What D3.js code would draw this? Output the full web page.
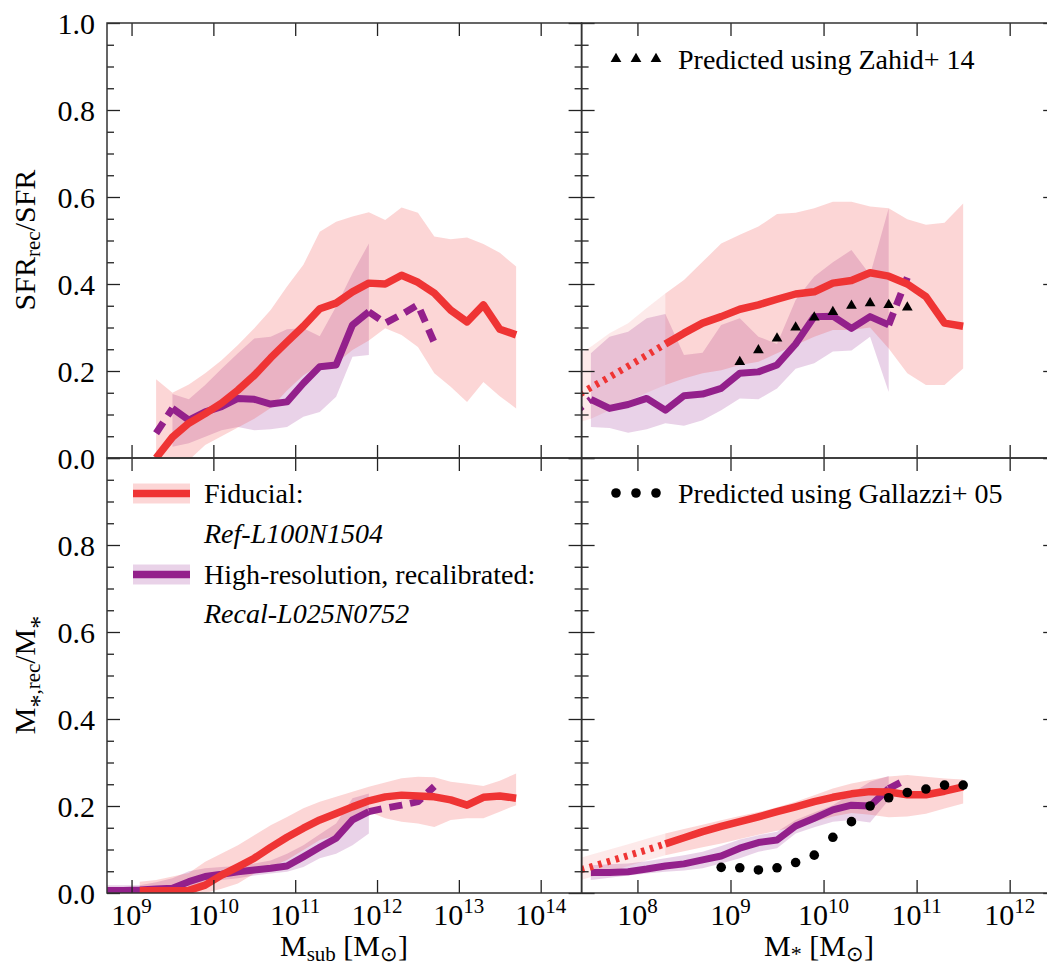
<!DOCTYPE html>
<html><head><meta charset="utf-8">
<script src="https://cdn.jsdelivr.net/npm/d3@7"></script>
<style>
body{margin:0;background:#fff}
svg{display:block}
text{font-family:"Liberation Serif","Times New Roman",serif;fill:#000}
</style>
</head><body>
<svg id="c" width="1047" height="965"></svg>
<script>
// ---------------- DATA (log10 mass bins, fractions) ----------------
// Top-left: SFR_rec/SFR vs M_sub
const haloBinsRef = [9.3,9.5,9.7,9.9,10.1,10.3,10.5,10.7,10.9,11.1,11.3,11.5,11.7,11.9,12.1,12.3,12.5,12.7,12.9,13.1,13.3,13.5,13.7];
const sfrHaloRefMed  = [0.0,0.048,0.08,0.102,0.126,0.156,0.19,0.23,0.267,0.303,0.343,0.356,0.382,0.402,0.400,0.420,0.404,0.379,0.340,0.313,0.352,0.296,0.283];
const sfrHaloRefHigh = [0.181,0.150,0.169,0.195,0.225,0.260,0.298,0.340,0.394,0.444,0.520,0.543,0.555,0.565,0.547,0.576,0.564,0.509,0.503,0.507,0.492,0.472,0.440];
const sfrHaloRefLow  = [-0.05,-0.03,-0.005,0.03,0.05,0.07,0.09,0.115,0.155,0.19,0.214,0.218,0.248,0.27,0.298,0.283,0.255,0.195,0.164,0.129,0.175,0.142,0.114];

const haloBinsRecal = [9.5,9.7,9.9,10.1,10.3,10.5,10.7,10.9,11.1,11.3,11.5,11.7,11.9];
const sfrHaloRecalMed  = [0.114,0.087,0.106,0.118,0.137,0.135,0.124,0.129,0.172,0.210,0.214,0.306,0.336];
const sfrHaloRecalHigh = [0.147,0.135,0.168,0.205,0.241,0.275,0.279,0.296,0.298,0.280,0.348,0.425,0.493];
const sfrHaloRecalLow  = [0.026,0.034,0.049,0.064,0.071,0.064,0.066,0.071,0.095,0.106,0.141,0.233,0.237];
const haloBinsRecalSparseLo = [9.3,9.5];
const sfrHaloRecalSparseLo  = [0.057,0.114];
const haloBinsRecalSparseHi = [11.9,12.1,12.3,12.5,12.7];
const sfrHaloRecalSparseHi  = [0.336,0.310,0.330,0.352,0.265];

// Top-right: SFR_rec/SFR vs M_*
const starBinsRef = [8.3,8.5,8.7,8.9,9.1,9.3,9.5,9.7,9.9,10.1,10.3,10.5,10.7,10.9,11.1,11.3,11.5];
const sfrStarRefMed  = [0.262,0.287,0.310,0.325,0.342,0.352,0.365,0.377,0.382,0.402,0.408,0.426,0.418,0.400,0.371,0.310,0.303];
const sfrStarRefHigh = [0.378,0.409,0.451,0.493,0.513,0.532,0.561,0.564,0.574,0.589,0.589,0.578,0.574,0.549,0.536,0.541,0.585];
const sfrStarRefLow  = [0.168,0.183,0.195,0.202,0.214,0.221,0.241,0.260,0.279,0.294,0.294,0.300,0.252,0.195,0.168,0.168,0.206];
const starBinsRefUnres = [7.3,7.5,7.7,7.9,8.1,8.3];
const sfrStarRefUnresMed  = [0.137,0.162,0.186,0.211,0.236,0.262];
const sfrStarRefUnresHigh = [0.230,0.256,0.287,0.310,0.345,0.378];
const sfrStarRefUnresLow  = [0.078,0.090,0.110,0.130,0.150,0.168];

const starBinsRecal = [7.5,7.7,7.9,8.1,8.3,8.5,8.7,8.9,9.1,9.3,9.5,9.7,9.9,10.1,10.3,10.5,10.7];
const sfrStarRecalMed  = [0.135,0.114,0.123,0.137,0.110,0.143,0.147,0.160,0.195,0.198,0.214,0.262,0.325,0.326,0.298,0.325,0.306];
const sfrStarRecalHigh = [0.241,0.279,0.290,0.321,0.331,0.237,0.242,0.306,0.321,0.279,0.262,0.363,0.417,0.450,0.478,0.421,0.574];
const sfrStarRecalLow  = [0.071,0.069,0.058,0.066,0.080,0.074,0.087,0.110,0.137,0.135,0.160,0.205,0.218,0.245,0.247,0.279,0.152];
const starBinsRecalSparseLo = [7.3,7.5];
const sfrStarRecalSparseLo  = [0.100,0.135];
const starBinsRecalSparseHi = [10.7,10.9];
const sfrStarRecalSparseHi  = [0.306,0.415];

const zahidLogM = [9.1,9.3,9.5,9.7,9.9,10.1,10.3,10.5,10.7,10.9];
const zahidSfr  = [0.221,0.248,0.275,0.300,0.323,0.336,0.350,0.356,0.352,0.346];

// Bottom-left: M*,rec/M* vs M_sub
const haloBinsRefM = [9.1,9.3,9.5,9.7,9.9,10.1,10.3,10.5,10.7,10.9,11.1,11.3,11.5,11.7,11.9,12.1,12.3,12.5,12.7,12.9,13.1,13.3,13.5,13.7];
const mHaloRefMed  = [0.005,0.005,0.005,0.006,0.018,0.041,0.060,0.080,0.105,0.128,0.149,0.168,0.183,0.198,0.212,0.221,0.225,0.223,0.221,0.214,0.202,0.220,0.223,0.218];
const mHaloRefHigh = [0.026,0.030,0.038,0.046,0.072,0.091,0.110,0.133,0.156,0.175,0.195,0.210,0.221,0.233,0.244,0.254,0.264,0.267,0.266,0.256,0.251,0.246,0.258,0.275];
const mHaloRefLow  = [-0.01,-0.01,-0.01,-0.005,0.0,0.010,0.022,0.045,0.060,0.076,0.099,0.122,0.133,0.160,0.187,0.172,0.164,0.160,0.152,0.168,0.172,0.172,0.187,0.202];

const haloBinsRecalM = [8.5,8.7,8.9,9.1,9.3,9.5,9.7,9.9,10.1,10.3,10.5,10.7,10.9,11.1,11.3,11.5,11.7,11.9];
const mHaloRecalMed  = [0.006,0.006,0.006,0.007,0.009,0.011,0.026,0.038,0.043,0.049,0.053,0.057,0.062,0.083,0.105,0.126,0.168,0.187];
const mHaloRecalHigh = [0.018,0.018,0.018,0.018,0.025,0.034,0.050,0.057,0.060,0.062,0.068,0.075,0.090,0.110,0.135,0.160,0.218,0.229];
const mHaloRecalLow  = [-0.005,-0.005,-0.005,-0.005,-0.005,0.0,0.005,0.020,0.030,0.034,0.040,0.045,0.049,0.060,0.080,0.090,0.110,0.137];
const haloBinsRecalMSparseHi = [11.9,12.1,12.3,12.5,12.7];
const mHaloRecalSparseHi     = [0.187,0.195,0.202,0.210,0.245];

// Bottom-right: M*,rec/M* vs M_*
const starBinsRefM = [8.3,8.5,8.7,8.9,9.1,9.3,9.5,9.7,9.9,10.1,10.3,10.5,10.7,10.9,11.1,11.3,11.5];
const mStarRefMed  = [0.113,0.127,0.141,0.153,0.164,0.175,0.187,0.198,0.210,0.220,0.228,0.233,0.232,0.226,0.226,0.234,0.244];
const mStarRefHigh = [0.137,0.147,0.157,0.167,0.177,0.186,0.197,0.210,0.225,0.240,0.252,0.260,0.268,0.271,0.267,0.263,0.261];
const mStarRefLow  = [0.087,0.096,0.105,0.114,0.124,0.134,0.143,0.153,0.164,0.176,0.184,0.180,0.174,0.176,0.182,0.194,0.206];
const starBinsRefMUnres = [7.3,7.5,7.7,7.9,8.1,8.3];
const mStarRefUnresMed  = [0.048,0.060,0.073,0.086,0.099,0.113];
const mStarRefUnresHigh = [0.075,0.088,0.100,0.112,0.125,0.137];
const mStarRefUnresLow  = [0.024,0.037,0.049,0.062,0.075,0.087];

const starBinsRecalM = [7.5,7.7,7.9,8.1,8.3,8.5,8.7,8.9,9.1,9.3,9.5,9.7,9.9,10.1,10.3,10.5,10.7];
const mStarRecalMed  = [0.047,0.047,0.049,0.055,0.062,0.067,0.076,0.085,0.103,0.116,0.122,0.154,0.172,0.191,0.202,0.200,0.240];
const mStarRecalHigh = [0.064,0.066,0.068,0.073,0.080,0.087,0.095,0.108,0.123,0.133,0.141,0.168,0.185,0.202,0.229,0.256,0.269];
const mStarRecalLow  = [0.030,0.035,0.040,0.045,0.049,0.052,0.057,0.068,0.080,0.095,0.103,0.137,0.151,0.164,0.168,0.162,0.214];
const starBinsRecalMSparseHi = [10.7,10.9];
const mStarRecalSparseHi     = [0.240,0.262];

const gallazziLogM = [8.9,9.1,9.3,9.5,9.7,9.9,10.1,10.3,10.5,10.7,10.9,11.1,11.3,11.5];
const gallazziM    = [0.059,0.058,0.053,0.058,0.070,0.087,0.128,0.164,0.200,0.219,0.231,0.239,0.248,0.248];

const yMajor = [0,0.2,0.4,0.6,0.8,1.0];
const yMinor = [0.05,0.1,0.15,0.25,0.3,0.35,0.45,0.5,0.55,0.65,0.7,0.75,0.85,0.9,0.95];
const haloExp = [9,10,11,12,13,14];
const starExp = [8,9,10,11,12];

// ---------------- STYLE ----------------
const RED = "#ef3434", PURPLE = "#93208b";
const G = {L0:107, L1:581.6, R1:1056.2, T:23, M:458, B:893};

const svg = d3.select("#c");
const xHalo = d3.scaleLog().domain([10**8.7, 10**14.5]).range([G.L0, G.L1]);
const xStar = d3.scaleLog().domain([10**7.4, 10**12.5]).range([G.L1, G.R1]);
const yTop = d3.scaleLinear().domain([0,1]).range([G.M, G.T]);
const yBot = d3.scaleLinear().domain([0,1]).range([G.B, G.M]);

const zip = (xs, ...cols) => xs.map((v,i) => [v, ...cols.map(c => c[i])]);

const defs = svg.append("defs");
function panel(id, x, y, x0, x1, y0, y1) {
  defs.append("clipPath").attr("id", id).append("rect")
    .attr("x", x0).attr("y", y1).attr("width", x1 - x0).attr("height", y0 - y1);
  const g = svg.append("g").attr("clip-path", `url(#${id})`);
  const area = d3.area().x(d => x(10**d[0])).y0(d => y(d[2])).y1(d => y(d[1]));
  const line = d3.line().x(d => x(10**d[0])).y(d => y(d[1]));
  return {
    band(data, color, op) { g.append("path").attr("d", area(data)).attr("fill", color).attr("fill-opacity", op); },
    line(data, color, w, dash) {
      const p = g.append("path").attr("d", line(data)).attr("fill", "none").attr("stroke", color)
        .attr("stroke-width", w).attr("stroke-linejoin", "round");
      if (dash) p.attr("stroke-dasharray", dash);
    },
    g, x, y
  };
}

const DASH = "13,8", DOT = "3.5,5.5";

// Top-left
{
  const p = panel("tl", xHalo, yTop, G.L0, G.L1, G.M, G.T);
  p.band(zip(haloBinsRecal, sfrHaloRecalHigh, sfrHaloRecalLow), PURPLE, 0.2);
  p.band(zip(haloBinsRef, sfrHaloRefHigh, sfrHaloRefLow), RED, 0.2);
  p.line(zip(haloBinsRecal, sfrHaloRecalMed), PURPLE, 7);
  p.line(zip(haloBinsRecalSparseLo, sfrHaloRecalSparseLo), PURPLE, 7, DASH);
  p.line(zip(haloBinsRecalSparseHi, sfrHaloRecalSparseHi), PURPLE, 7, DASH);
  p.line(zip(haloBinsRef, sfrHaloRefMed), RED, 7.5);
}
// Top-right
{
  const p = panel("tr", xStar, yTop, G.L1, G.R1, G.M, G.T);
  p.band(zip(starBinsRecal, sfrStarRecalHigh, sfrStarRecalLow), PURPLE, 0.2);
  p.band(zip(starBinsRefUnres, sfrStarRefUnresHigh, sfrStarRefUnresLow), RED, 0.1);
  p.band(zip(starBinsRef, sfrStarRefHigh, sfrStarRefLow), RED, 0.2);
  p.line(zip(starBinsRecal, sfrStarRecalMed), PURPLE, 7);
  p.line(zip(starBinsRecalSparseLo, sfrStarRecalSparseLo), PURPLE, 7, DASH);
  p.line(zip(starBinsRecalSparseHi, sfrStarRecalSparseHi), PURPLE, 7, DASH);
  p.line(zip(starBinsRefUnres, sfrStarRefUnresMed), RED, 7, DOT);
  p.line(zip(starBinsRef, sfrStarRefMed), RED, 7.5);
  p.g.selectAll("path.tri").data(zip(zahidLogM, zahidSfr)).join("path")
    .attr("transform", d => `translate(${xStar(10**d[0])},${yTop(d[1])})`)
    .attr("d", d3.symbol(d3.symbolTriangle, 50)).attr("fill", "#000");
}
// Bottom-left
{
  const p = panel("bl", xHalo, yBot, G.L0, G.L1, G.B, G.M);
  p.band(zip(haloBinsRecalM, mHaloRecalHigh, mHaloRecalLow), PURPLE, 0.2);
  p.band(zip(haloBinsRefM, mHaloRefHigh, mHaloRefLow), RED, 0.2);
  p.line(zip(haloBinsRecalM, mHaloRecalMed), PURPLE, 7);
  p.line(zip(haloBinsRecalMSparseHi, mHaloRecalSparseHi), PURPLE, 7, DASH);
  p.line(zip(haloBinsRefM, mHaloRefMed), RED, 7.5);
}
// Bottom-right
{
  const p = panel("br", xStar, yBot, G.L1, G.R1, G.B, G.M);
  p.band(zip(starBinsRecalM, mStarRecalHigh, mStarRecalLow), PURPLE, 0.2);
  p.band(zip(starBinsRefMUnres, mStarRefUnresHigh, mStarRefUnresLow), RED, 0.1);
  p.band(zip(starBinsRefM, mStarRefHigh, mStarRefLow), RED, 0.2);
  p.line(zip(starBinsRecalM, mStarRecalMed), PURPLE, 7);
  p.line(zip(starBinsRecalMSparseHi, mStarRecalSparseHi), PURPLE, 7, DASH);
  p.line(zip(starBinsRefMUnres, mStarRefUnresMed), RED, 7, DOT);
  p.line(zip(starBinsRefM, mStarRefMed), RED, 7.5);
  p.g.selectAll("circle.dot").data(zip(gallazziLogM, gallazziM)).join("circle")
    .attr("cx", d => xStar(10**d[0])).attr("cy", d => yBot(d[1])).attr("r", 4.8).attr("fill", "#000");
}

// ---------------- AXES ----------------
const tickStyle = sel => {
  sel.select(".domain").remove();
  sel.selectAll(".tick text").remove();
  sel.selectAll(".tick line").attr("stroke", "#222").attr("stroke-width", 1.3);
};
function frame(x, y, x0, x1, y0, y1, exps) {
  const g = svg.append("g");
  [[d3.axisLeft, x0], [d3.axisRight, x1]].forEach(([ax, px]) => {
    g.append("g").attr("transform", `translate(${px},0)`).call(ax(y).tickValues(yMajor).tickSize(-13)).call(tickStyle);
    g.append("g").attr("transform", `translate(${px},0)`).call(ax(y).tickValues(yMinor).tickSize(-7)).call(tickStyle);
  });
  const xt = exps.map(e => 10**e);
  g.append("g").attr("transform", `translate(0,${y0})`).call(d3.axisBottom(x).tickValues(xt).tickSize(-13)).call(tickStyle);
  g.append("g").attr("transform", `translate(0,${y1})`).call(d3.axisTop(x).tickValues(xt).tickSize(-13)).call(tickStyle);
  g.append("rect").attr("x", x0).attr("y", y1).attr("width", x1 - x0).attr("height", y0 - y1)
    .attr("fill", "none").attr("stroke", "#333").attr("stroke-width", 1.5);
}
frame(xHalo, yTop, G.L0, G.L1, G.M, G.T, haloExp);
frame(xStar, yTop, G.L1, G.R1, G.M, G.T, starExp);
frame(xHalo, yBot, G.L0, G.L1, G.B, G.M, haloExp);
frame(xStar, yBot, G.L1, G.R1, G.B, G.M, starExp);

// y tick labels
const fmt = d3.format(".1f");
svg.append("g").selectAll("text").data(yMajor).join("text")
  .attr("x", 95).attr("y", d => yTop(d)).attr("dy", "0.35em").attr("text-anchor", "end")
  .attr("font-size", 30).text(fmt);
svg.append("g").selectAll("text").data(yMajor.filter(v => v < 1)).join("text")
  .attr("x", 95).attr("y", d => yBot(d)).attr("dy", "0.35em").attr("text-anchor", "end")
  .attr("font-size", 30).text(fmt);

// x tick labels
function xLabels(x, exps) {
  exps.forEach(e => {
    const t = svg.append("text").attr("x", x(10**e)).attr("y", 925).attr("text-anchor", "middle").attr("font-size", 30);
    t.append("tspan").text("10");
    t.append("tspan").attr("font-size", 21).attr("dy", -12).text(e);
  });
}
xLabels(xHalo, haloExp);
xLabels(xStar, starExp);

// axis titles: parts = [text, shift(px, + = down), size]
function title(x, y, parts, rot) {
  const t = svg.append("text").attr("text-anchor", "middle").attr("font-size", 30)
    .attr("transform", `translate(${x},${y})` + (rot ? " rotate(-90)" : ""));
  let shift = 0;
  parts.forEach(([s, target, size]) => {
    const sp = t.append("tspan").text(s);
    target = target || 0;
    if (target !== shift) sp.attr("dy", target - shift);
    shift = target;
    if (size) sp.attr("font-size", size);
  });
}
title(344, 956, [["M"], ["sub", 5, 21], [" [M", 0], ["\u2299", 5, 21], ["]", 0]]);
title(819, 956, [["M"], ["*", 5, 22], [" [M", 0], ["\u2299", 5, 21], ["]", 0]]);
title(35, 240, [["SFR"], ["rec", 5, 21], ["/SFR", 0]], true);
title(35, 675, [["M"], ["*", 13, 26], [",rec", 5, 21], ["/M", 0], ["*", 13, 26]], true);

// legends
const legTri = [616, 636, 656];
svg.append("g").selectAll("path").data(legTri).join("path")
  .attr("transform", d => `translate(${d},59)`).attr("d", d3.symbol(d3.symbolTriangle, 50)).attr("fill", "#000");
svg.append("text").attr("x", 678).attr("y", 69).attr("font-size", 28).text("Predicted using Zahid+ 14");
svg.append("g").selectAll("circle").data(legTri).join("circle")
  .attr("cx", d => d).attr("cy", 493).attr("r", 4.8).attr("fill", "#000");
svg.append("text").attr("x", 678).attr("y", 503).attr("font-size", 28).text("Predicted using Gallazzi+ 05");

const leg = [
  {c: RED, y: 493.5, a: "Fiducial:", b: "Ref-L100N1504", ya: 503, yb: 543},
  {c: PURPLE, y: 574.5, a: "High-resolution, recalibrated:", b: "Recal-L025N0752", ya: 584, yb: 623}
];
leg.forEach(l => {
  svg.append("rect").attr("x", 133).attr("y", l.y - 10).attr("width", 57).attr("height", 20)
    .attr("fill", l.c).attr("fill-opacity", 0.2);
  svg.append("line").attr("x1", 133).attr("x2", 190).attr("y1", l.y).attr("y2", l.y)
    .attr("stroke", l.c).attr("stroke-width", 7.5);
  svg.append("text").attr("x", 204).attr("y", l.ya).attr("font-size", 28).text(l.a);
  svg.append("text").attr("x", 204).attr("y", l.yb).attr("font-size", 28).attr("font-style", "italic").text(l.b);
});
</script>
</body></html>
